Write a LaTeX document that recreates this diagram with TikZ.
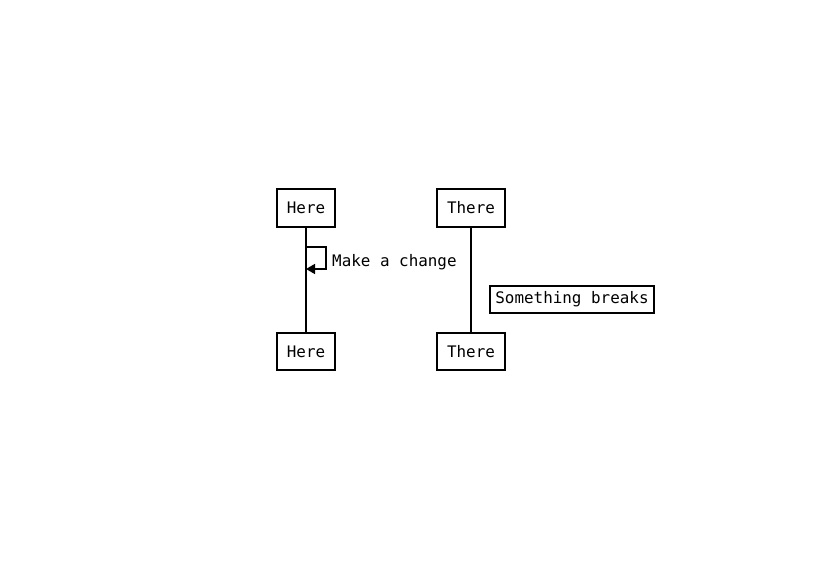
\documentclass[tikz,border=0pt]{standalone}
\usepackage{fontspec}
\setmonofont{DejaVu Sans Mono}
\usetikzlibrary{arrows.meta}
\begin{document}
\begin{tikzpicture}[x=1pt,y=-1pt,
  participant/.style={draw,line width=1.6pt,inner sep=0pt,font=\ttfamily\fontsize{15.9}{16}\selectfont},
  note/.style={draw,line width=1.6pt,inner sep=0pt,font=\ttfamily\fontsize{15.9}{16}\selectfont},
  life/.style={line width=1.6pt},
  msg/.style={line width=1.6pt,-{Triangle[length=9pt,width=10pt]}},
  lbl/.style={font=\ttfamily\fontsize{15.9}{16}\selectfont,inner sep=0pt,anchor=west}]
\useasboundingbox (0,0) rectangle (838,562);
\node[participant,minimum width=58pt,minimum height=38pt] (h1) at (306,208) {Here};
\node[participant,minimum width=68pt,minimum height=38pt] (t1) at (471,208) {There};
\node[participant,minimum width=58pt,minimum height=37pt] (h2) at (306,351.5) {Here};
\node[participant,minimum width=68pt,minimum height=37pt] (t2) at (471,351.5) {There};
\draw[life] (h1.south) -- (h2.north);
\draw[life] (t1.south) -- (t2.north);
\coordinate (s1) at (306,247);
\coordinate (s2) at (326,247);
\coordinate (s3) at (326,269);
\coordinate (s4) at (306,269);
\draw[msg] (s1) -- (s2) -- (s3) -- (s4);
\node[lbl] (m) at (332,262) {Make a change};
\node[note,minimum width=164pt,minimum height=27pt] (n) at (572,299.5) {Something breaks};
\end{tikzpicture}
\end{document}
